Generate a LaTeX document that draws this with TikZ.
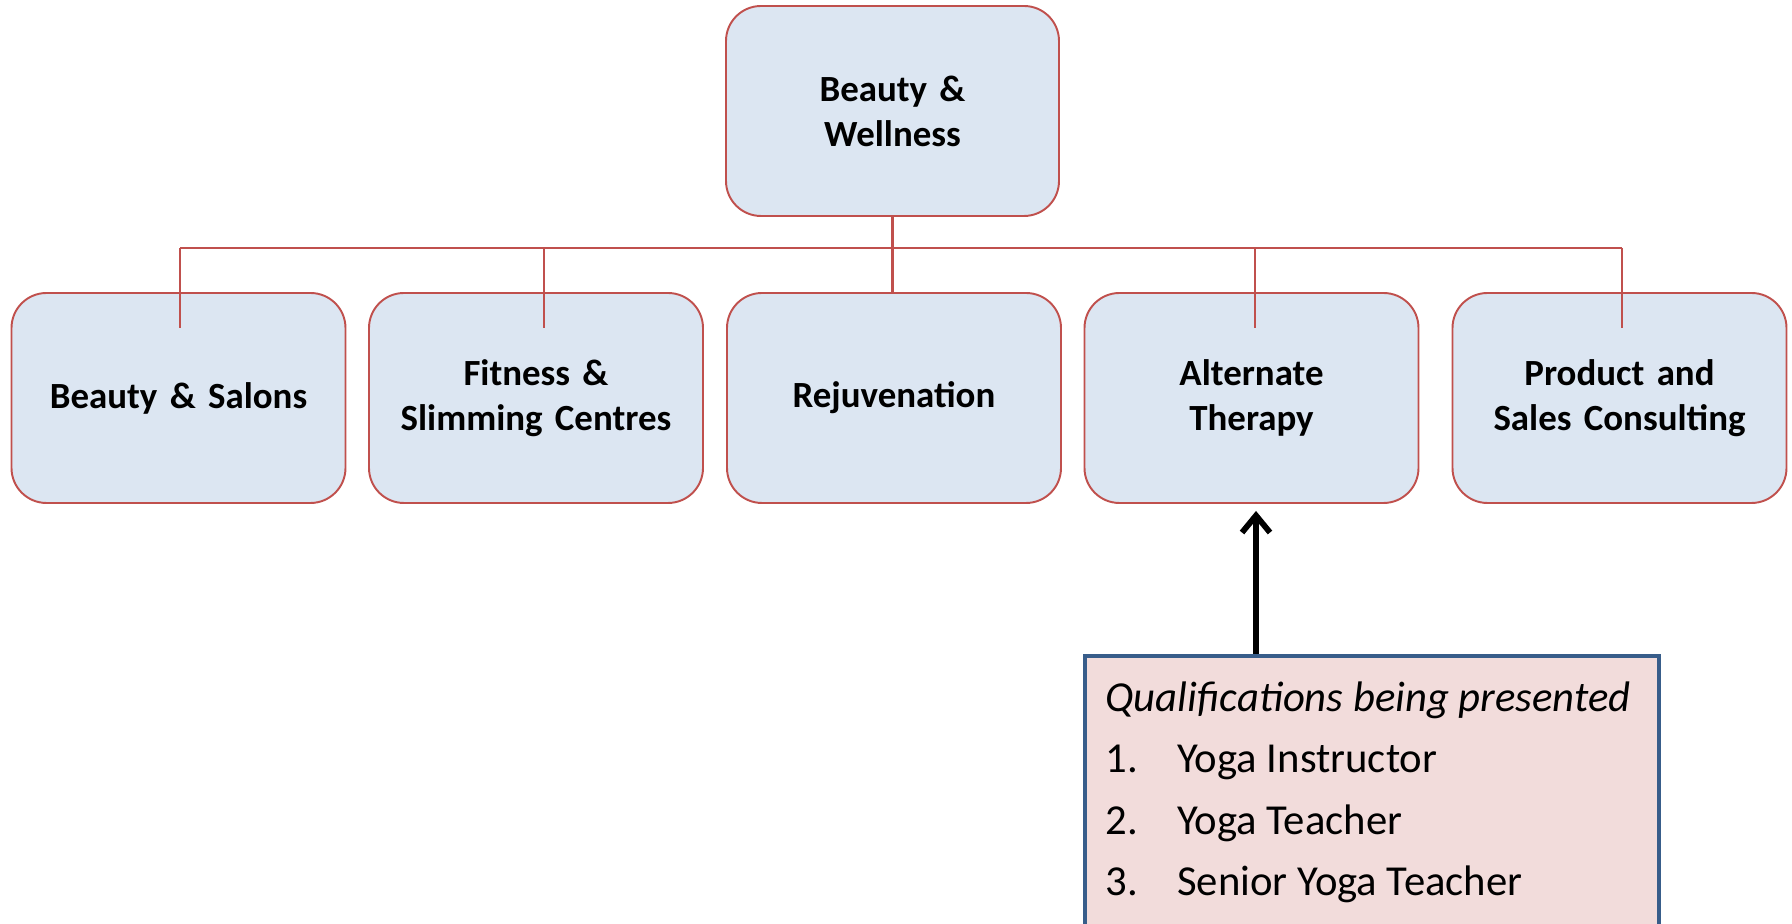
\documentclass[tikz,border=0pt]{standalone}
\usepackage{fontspec}
\setmainfont{Carlito}
\usetikzlibrary{arrows.meta,calc}
\definecolor{BoxBlue} {HTML}{DCE6F2}
\definecolor{EdgeRed} {HTML}{C0504D}
\definecolor{NoteRose}{HTML}{F2DCDB}
\definecolor{NoteBlue}{HTML}{385D8A}
\tikzset{
  unit/.style={rectangle,rounded corners=0.7cm,draw=EdgeRed,line width=1.1pt,
               fill=BoxBlue,minimum width=6.68cm,minimum height=4.2cm,
               text width=6.3cm,align=center,
               font=\fontsize{21}{25.6}\selectfont\bfseries},
  link/.style={draw=EdgeRed,line width=1.2pt},
  note/.style={rectangle,draw=NoteBlue,line width=2.3pt,fill=NoteRose,
               minimum width=11.48cm,minimum height=6cm,anchor=north west},
  parr/.style={-{Straight Barb[length=0.34cm,width=0.56cm]},line width=3.3pt},
}

\begin{document}
\begin{tikzpicture}
  \useasboundingbox (0,0) rectangle (35.84,18.48);
  \clip (0,0) rectangle (35.84,18.48);

  % top level
  \node[unit,minimum width=6.66cm] (BW) at (17.85,16.26){Beauty \&\\Wellness};

  % sectors
  \node[unit] (BS) at (3.57,10.52){Beauty \& Salons};
  \node[unit] (FS) at (10.72,10.52){Fitness \&\\Slimming Centres};
  \node[unit] (RJ) at (17.88,10.52){Rejuvenation};
  \node[unit] (AT) at (25.03,10.52){Alternate\\Therapy};
  \node[unit] (PS) at (32.39,10.52){Product and\\Sales Consulting};

  % bus and drops
  \coordinate (J1) at (3.60,13.52);
  \coordinate (J2) at (10.88,13.52);
  \coordinate (J4) at (25.10,13.52);
  \coordinate (J5) at (32.44,13.52);
  \draw[link] (J1) -- (J5);
  \draw[link] (BW.south) -- (BW.south |- RJ.north);
  \foreach \j/\b in {J1/BS,J2/FS,J4/AT,J5/PS}
    \draw[link] (\j) -- ($(\j |- \b.north)+(0,-0.72)$);

  % qualifications note
  \node[note] (QP) at (21.66,5.4){};
  \node[anchor=north west,align=left,inner sep=0pt,
        font=\fontsize{24.3}{34.9}\selectfont]
    (QL) at ([xshift=0.44cm,yshift=-0.55cm]QP.north west)
    {\textit{Qualifications being presented}\\
     \makebox[1.44cm][l]{1.}Yoga Instructor\\
     \makebox[1.44cm][l]{2.}Yoga Teacher\\
     \makebox[1.44cm][l]{3.}Senior Yoga Teacher};

  \coordinate (TIP) at ([xshift=0.09cm,yshift=-0.14cm]AT.south);
  \draw[parr] (QP.north -| TIP) -- (TIP);

\end{tikzpicture}
\end{document}
